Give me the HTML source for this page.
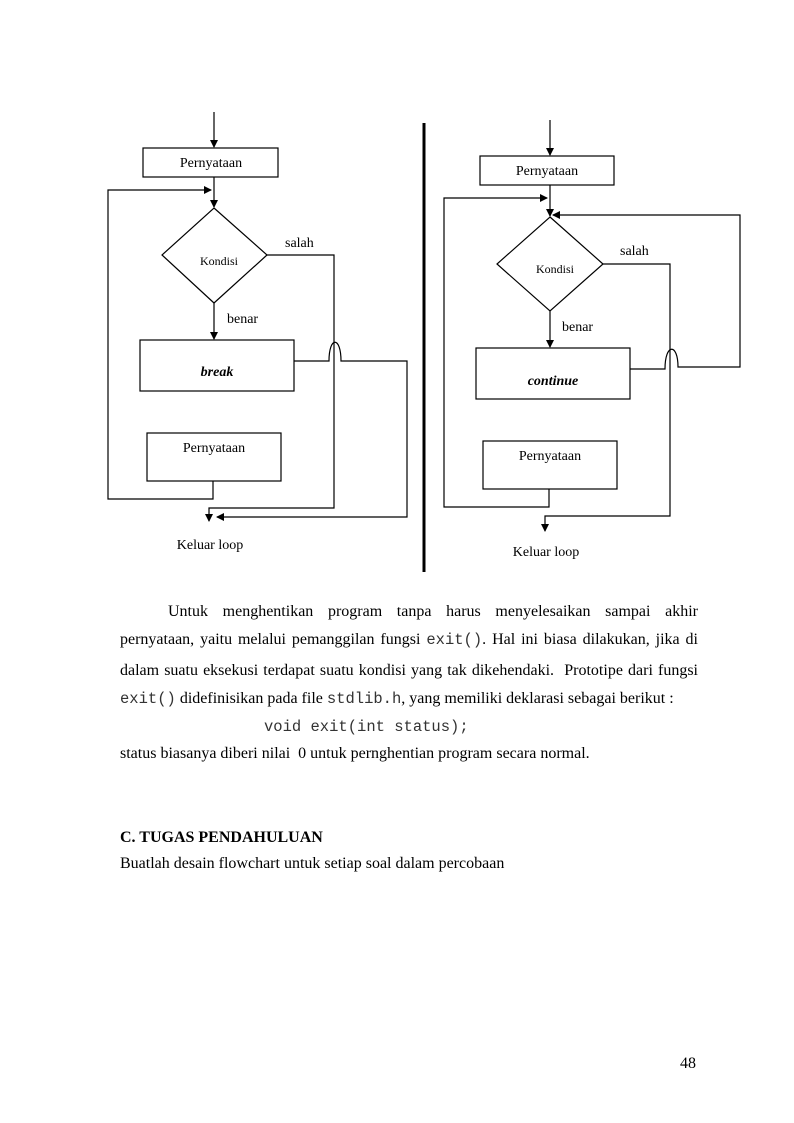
<!DOCTYPE html>
<html><head><meta charset="utf-8"><style>
body{margin:0;background:#fff;}
#p{position:relative;width:794px;height:1123px;overflow:hidden;font-family:"Liberation Serif",serif;color:#000;}
.l{position:absolute;left:120px;width:578px;font-size:16px;line-height:18px;white-space:nowrap;}
.j{text-align:justify;text-align-last:justify;white-space:normal;}
.m{font-family:"Liberation Mono",monospace;font-size:15.5px;color:#333;}
</style></head><body><div id="p">
<svg width="794" height="600" style="position:absolute;left:0;top:0" font-family="Liberation Serif, serif">
<defs><marker id="a" markerWidth="8" markerHeight="8" refX="7" refY="4" orient="auto" markerUnits="userSpaceOnUse"><path d="M0,0 L8,4 L0,8 z" fill="#000"/></marker></defs>
<g stroke="#000" stroke-width="1.2" fill="none">
<line x1="214" y1="112" x2="214" y2="147" marker-end="url(#a)"/>
<rect x="143" y="148" width="135" height="29"/>
<line x1="214" y1="177" x2="214" y2="207" marker-end="url(#a)"/>
<polyline points="213,481 213,499 108,499 108,190 211,190" marker-end="url(#a)"/>
<polygon points="214,208 267,255 214,303 162,255"/>
<polyline points="267,255 334,255 334,508 209,508 209,521" marker-end="url(#a)"/>
<line x1="214" y1="303" x2="214" y2="339" marker-end="url(#a)"/>
<rect x="140" y="340" width="154" height="51"/>
<path d="M294,361 L329,361 C329,336 341,336 341,361 L407,361 L407,517 L217,517" marker-end="url(#a)"/>
<rect x="147" y="433" width="134" height="48"/>
<line x1="550" y1="120" x2="550" y2="155" marker-end="url(#a)"/>
<rect x="480" y="156" width="134" height="29"/>
<line x1="550" y1="185" x2="550" y2="216" marker-end="url(#a)"/>
<polyline points="549,489 549,507 444,507 444,198 547,198" marker-end="url(#a)"/>
<polygon points="550,217 603,264 550,311 497,264"/>
<polyline points="603,264 670,264 670,516 545,516 545,531" marker-end="url(#a)"/>
<line x1="550" y1="311" x2="550" y2="347" marker-end="url(#a)"/>
<rect x="476" y="348" width="154" height="51"/>
<path d="M630,369 L665,369 C665,343 678,343 678,367 L740,367 L740,215 L553,215" marker-end="url(#a)"/>
<rect x="483" y="441" width="134" height="48"/>
</g>
<line x1="424" y1="123" x2="424" y2="572" stroke="#000" stroke-width="3"/>
<g font-size="14" fill="#000">
<text x="211" y="167" text-anchor="middle">Pernyataan</text>
<text x="219" y="265" text-anchor="middle" font-size="12">Kondisi</text>
<text x="285" y="247">salah</text>
<text x="227" y="323">benar</text>
<text x="217" y="376" text-anchor="middle" font-weight="bold" font-style="italic">break</text>
<text x="214" y="452" text-anchor="middle">Pernyataan</text>
<text x="210" y="549" text-anchor="middle">Keluar loop</text>
<text x="547" y="175" text-anchor="middle">Pernyataan</text>
<text x="555" y="273" text-anchor="middle" font-size="12">Kondisi</text>
<text x="620" y="255">salah</text>
<text x="562" y="331">benar</text>
<text x="553" y="385" text-anchor="middle" font-weight="bold" font-style="italic">continue</text>
<text x="550" y="460" text-anchor="middle">Pernyataan</text>
<text x="546" y="556" text-anchor="middle">Keluar loop</text>
</g>
</svg>
<div class="l j" style="top:603px;padding-left:48px;width:530px">Untuk menghentikan program tanpa harus menyelesaikan sampai akhir</div>
<div class="l j" style="top:631px">pernyataan, yaitu melalui pemanggilan fungsi <span class="m">exit()</span>. Hal ini biasa dilakukan, jika di</div>
<div class="l j" style="top:662px">dalam suatu eksekusi terdapat suatu kondisi yang tak dikehendaki. &nbsp;Prototipe dari fungsi</div>
<div class="l" style="top:690px"><span class="m">exit()</span> didefinisikan pada file <span class="m">stdlib.h</span>, yang memiliki deklarasi sebagai berikut :</div>
<div class="l m" style="top:718px;left:264px;width:auto">void exit(int status);</div>
<div class="l" style="top:745px">status biasanya diberi nilai &nbsp;0 untuk pernghentian program secara normal.</div>
<div class="l" style="top:829px;font-weight:bold">C. TUGAS PENDAHULUAN</div>
<div class="l" style="top:855px">Buatlah desain flowchart untuk setiap soal dalam percobaan</div>
<div class="l" style="top:1055px;left:680px;width:auto">48</div>
</div></body></html>
